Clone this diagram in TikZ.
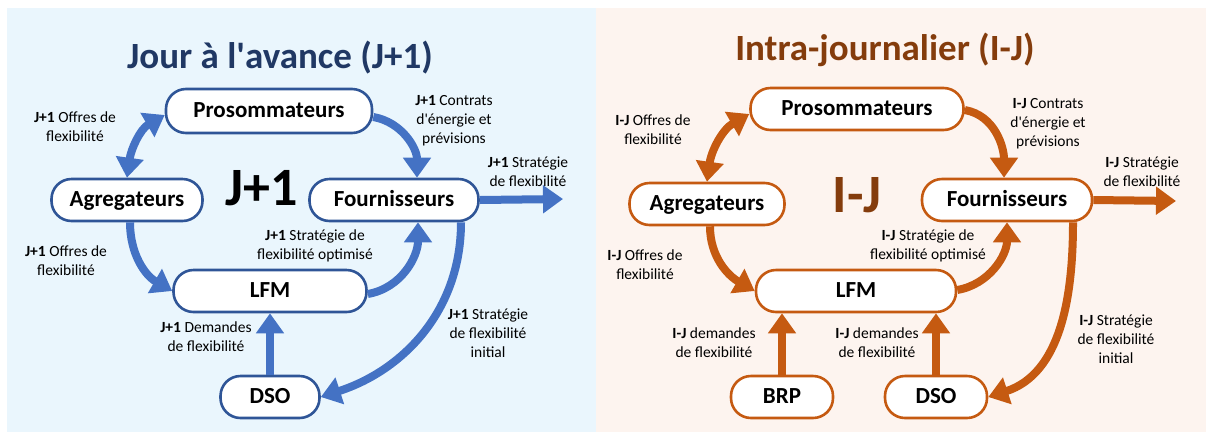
\documentclass[tikz,border=0pt]{standalone}
\usepackage{fontspec}
\setmainfont{Carlito}
\usetikzlibrary{arrows.meta}

\definecolor{fondJ}{HTML}{EAF6FD}
\definecolor{fondI}{HTML}{FDF4EF}
\definecolor{flecheJ}{HTML}{4472C4}
\definecolor{bordJ}{HTML}{2F5597}
\definecolor{titreJ}{HTML}{203864}
\definecolor{flecheI}{HTML}{C55A11}
\definecolor{titreI}{HTML}{843C0C}

\begin{document}
\begin{tikzpicture}[x=1pt,y=1pt,>={Triangle[length=20pt,width=27pt]}]
  \tikzstyle{acteur}=[draw,fill=white,line width=2.6pt,rounded corners=20pt,minimum height=42pt,
    inner sep=0pt,text height=16pt,text depth=4pt,font=\bfseries\fontsize{23}{27}\selectfont]
  \tikzstyle{fleche}=[line width=8pt,->]
  \tikzstyle{etiq}=[align=center,inner sep=0pt,text=black,font=\fontsize{15.5}{19}\selectfont]
  \tikzstyle{titre}=[font=\bfseries\fontsize{37}{40}\selectfont]
  \tikzstyle{gros}=[font=\bfseries\fontsize{54}{58}\selectfont]
  \useasboundingbox (0,0) rectangle (1206,-432);
  \fill[fondJ] (7,-8) rectangle (596,-432);
  \fill[fondI] (596,-8) rectangle (1206,-432);

  % Jour a l'avance
  \node[titre,text=titreJ] (titreJ) at (280,-58) {Jour à l\textquotesingle avance (J+1)};
  \node[gros] (grosJ) at (262,-188) {J+1};
  \node[acteur,draw=bordJ,minimum width=206pt,minimum height=44pt] (proJ) at (269,-111) {Prosommateurs};
  \node[acteur,draw=bordJ,minimum width=151pt] (aggJ) at (127,-200) {Agregateurs};
  \node[acteur,draw=bordJ,minimum width=169pt] (fourJ) at (394,-200) {Fournisseurs};
  \node[acteur,draw=bordJ,minimum width=193pt] (lfmJ) at (270,-291) {LFM};
  \node[acteur,draw=bordJ,minimum width=99pt] (dsoJ) at (270,-397) {DSO};
  \coordinate (sortieJ) at (563,-199);

  \draw[fleche,<->,flecheJ] (aggJ.north) to[out=82,in=210] ([yshift=-4pt]proJ.west);
  \draw[fleche,flecheJ] ([yshift=-6pt]proJ.east) to[out=-10,in=90] ([xshift=23pt]fourJ.north);
  \draw[fleche,flecheJ] (fourJ.east) -- (sortieJ);
  \draw[fleche,flecheJ] ([xshift=3pt]aggJ.south) to[out=-90,in=150] (lfmJ.west);
  \draw[fleche,flecheJ] ([yshift=-3pt]lfmJ.east) to[out=10,in=-90] ([xshift=24pt]fourJ.south);
  \draw[fleche,flecheJ] ([xshift=67pt]fourJ.south) to[out=-90,in=18] (dsoJ.east);
  \draw[fleche,flecheJ] (dsoJ) -- (lfmJ);

  \node[etiq] (offresJa) at (75,-127) {\textbf{J+1} Offres de\\flexibilité};
  \node[etiq] (contratsJ) at (454,-121) {\textbf{J+1} Contrats\\d\textquotesingle énergie et\\prévisions};
  \node[etiq] (strategieJ) at (528,-172) {\textbf{J+1} Stratégie\\de flexibilité};
  \node[etiq] (offresJb) at (66,-261) {\textbf{J+1} Offres de\\flexibilité};
  \node[etiq] (optimiseJ) at (315,-246) {\textbf{J+1} Stratégie de\\flexibilité optimisé};
  \node[etiq] (demandesJ) at (206,-337) {\textbf{J+1} Demandes\\de flexibilité};
  \node[etiq] (initialJ) at (488,-333) {\textbf{J+1} Stratégie\\de flexibilité\\initial};

  % Intra-journalier
  \node[titre,text=titreI] (titreI) at (885,-50) {Intra-journalier (I-J)};
  \node[gros,text=titreI] (grosI) at (857,-195) {I-J};
  \node[acteur,draw=flecheI,minimum width=213pt] (proI) at (857,-109) {Prosommateurs};
  \node[acteur,draw=flecheI,minimum width=155pt] (aggI) at (707,-204) {Agregateurs};
  \node[acteur,draw=flecheI,minimum width=170pt] (fourI) at (1007,-200) {Fournisseurs};
  \node[acteur,draw=flecheI,minimum width=200pt] (lfmI) at (856,-291) {LFM};
  \node[acteur,draw=flecheI,minimum width=102pt] (brpI) at (782,-397) {BRP};
  \node[acteur,draw=flecheI,minimum width=102pt] (dsoI) at (936,-397) {DSO};
  \coordinate (sortieI) at (1176,-201);

  \draw[fleche,<->,flecheI] (aggI.north) to[out=82,in=210] ([yshift=-5pt]proI.west);
  \draw[fleche,flecheI] ([yshift=-1pt]proI.east) to[out=-10,in=90] ([xshift=-3pt]fourI.north);
  \draw[fleche,flecheI] (fourI.east) -- (sortieI);
  \draw[fleche,flecheI] ([xshift=3pt]aggI.south) to[out=-90,in=150] (lfmI.west);
  \draw[fleche,flecheI] ([yshift=1pt]lfmI.east) to[out=10,in=-90] (fourI.south);
  \draw[fleche,flecheI] ([xshift=66pt]fourI.south) to[out=-90,in=18] (dsoI.east);
  \draw[fleche,flecheI] (brpI) -- (brpI |- lfmI.south);
  \draw[fleche,flecheI] (dsoI) -- (dsoI |- lfmI.south);

  \node[etiq] (offresIa) at (653,-130) {\textbf{I-J} Offres de\\flexibilité};
  \node[etiq] (contratsI) at (1048,-124) {\textbf{I-J} Contrats\\d\textquotesingle énergie et\\prévisions};
  \node[etiq] (strategieI) at (1142,-172) {\textbf{I-J} Stratégie\\de flexibilité};
  \node[etiq] (offresIb) at (645,-265) {\textbf{I-J} Offres de\\flexibilité};
  \node[etiq] (optimiseI) at (928,-246) {\textbf{I-J} Stratégie de\\flexibilité optimisé};
  \node[etiq] (demandesIa) at (714,-343) {\textbf{I-J} demandes\\de flexibilité};
  \node[etiq] (demandesIb) at (877,-343) {\textbf{I-J} demandes\\de flexibilité};
  \node[etiq] (initialI) at (1116,-339) {\textbf{I-J} Stratégie\\de flexibilité\\initial};
\end{tikzpicture}
\end{document}
